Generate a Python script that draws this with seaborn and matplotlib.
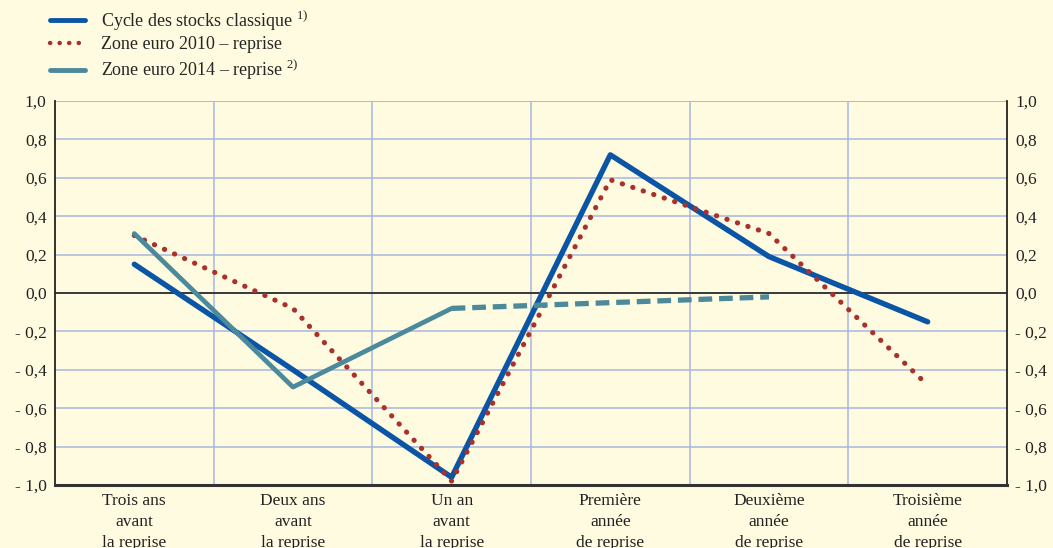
import numpy as np
import pandas as pd
import matplotlib
matplotlib.use("Agg")
import matplotlib.pyplot as plt
import seaborn as sns
from matplotlib.lines import Line2D
from matplotlib.ticker import FixedLocator, FuncFormatter

# =========================
# DATA
# =========================
categories = [
    "Trois ans\navant\nla reprise",
    "Deux ans\navant\nla reprise",
    "Un an\navant\nla reprise",
    "Première\nannée\nde reprise",
    "Deuxième\nannée\nde reprise",
    "Troisième\nannée\nde reprise",
]
cycle_classique = [0.15, -0.40, -0.96, 0.72, 0.19, -0.15]
zone_2010 = [0.30, -0.08, -0.98, 0.59, 0.31, -0.48]
zone_2014 = [0.31, -0.49, -0.08]
zone_2014_prev = [-0.08, -0.05, -0.02]

labels = [
    r"Cycle des stocks classique $^{\mathrm{1)}}$",
    "Zone euro 2010 – reprise",
    r"Zone euro 2014 – reprise $^{\mathrm{2)}}$",
]

# =========================
# STYLE
# =========================
BG = "#FFFBE0"
BLUE = "#0A55A5"
RED = "#A8312C"
TEAL = "#4C8A9B"
GRID = "#A9B6DF"

sns.set_theme(style="white")
plt.rcParams["font.family"] = ["Liberation Serif", "DejaVu Serif"]
plt.rcParams["mathtext.fontset"] = "custom"
plt.rcParams["mathtext.rm"] = "Liberation Serif"

x = np.arange(len(categories))
df = pd.DataFrame({"x": x, "cycle": cycle_classique, "z2010": zone_2010})
df14 = pd.DataFrame({"x": x[:3], "v": zone_2014})
df14p = pd.DataFrame({"x": x[2:5], "v": zone_2014_prev})

fig = plt.figure(figsize=(10.53, 5.48), dpi=100, facecolor=BG)
ax = fig.add_axes([0.0522, 0.115, 0.9041, 0.7005])
ax.set_facecolor(BG)

# gridlines
for yv in np.arange(-0.8, 1.01, 0.2):
    ax.axhline(yv, color=GRID, lw=1.1, zorder=0)
for xv in np.arange(0.5, 5, 1.0):
    ax.axvline(xv, color=GRID, lw=1.1, zorder=0)
ax.axhline(0, color="#222222", lw=1.2, zorder=1)

# series
sns.lineplot(data=df, x="x", y="z2010", ax=ax, color=RED, lw=3.7,
             linestyle=(0, (0.05, 2.1)), dash_capstyle="round", zorder=3)
sns.lineplot(data=df, x="x", y="cycle", ax=ax, color=BLUE, lw=3.9, zorder=2)
sns.lineplot(data=df14, x="x", y="v", ax=ax, color=TEAL, lw=3.4, zorder=4)
sns.lineplot(data=df14p, x="x", y="v", ax=ax, color=TEAL, lw=3.8,
             linestyle=(0, (2.6, 1.3)), zorder=4)

ax.set_xlim(-0.5, 5.5)
ax.set_ylim(-1.0, 1.0)
ax.set_xlabel("")
ax.set_ylabel("")

# axes & ticks
yticks = np.round(np.arange(-1.0, 1.01, 0.2), 1)
fmt = FuncFormatter(lambda v, p: ("- " if v < -1e-9 else "") + f"{abs(v):.1f}".replace(".", ","))
ax.yaxis.set_major_locator(FixedLocator(yticks))
ax.yaxis.set_major_formatter(fmt)
ax.tick_params(axis="y", which="both", length=0, labelsize=12.5, pad=6,
               labelleft=True, labelright=True, colors="#222222")

ax.set_xticks(x)
ax.set_xticklabels(categories, fontsize=12.5, linespacing=1.4)
ax.xaxis.set_minor_locator(FixedLocator(np.arange(-0.5, 5.6, 1.0)))
ax.tick_params(axis="x", which="major", length=0, pad=6, colors="#222222")
ax.tick_params(axis="x", which="minor", length=5, width=1.5, direction="out",
               color="#333333")

ax.spines["top"].set_visible(False)
for side in ["left", "right"]:
    ax.spines[side].set_color("#222222")
    ax.spines[side].set_linewidth(1.3)
ax.spines["bottom"].set_color("#333333")
ax.spines["bottom"].set_linewidth(2.2)
ax.axhline(1.0, color=GRID, lw=1.1, zorder=0)

# legend
handles = [
    Line2D([], [], color=BLUE, lw=3.5),
    Line2D([], [], color=RED, lw=3.2, linestyle=(0, (0.05, 2.1)), dash_capstyle="round"),
    Line2D([], [], color=TEAL, lw=3.5),
]
fig.legend(handles, labels, loc="upper left", bbox_to_anchor=(50 / 1053, 1 - 8 / 548),
           frameon=False, fontsize=13, handlelength=1.95, handletextpad=0.85,
           labelspacing=0.2, borderaxespad=0, borderpad=0)

fig.savefig("out.png", dpi=100, facecolor=BG)
